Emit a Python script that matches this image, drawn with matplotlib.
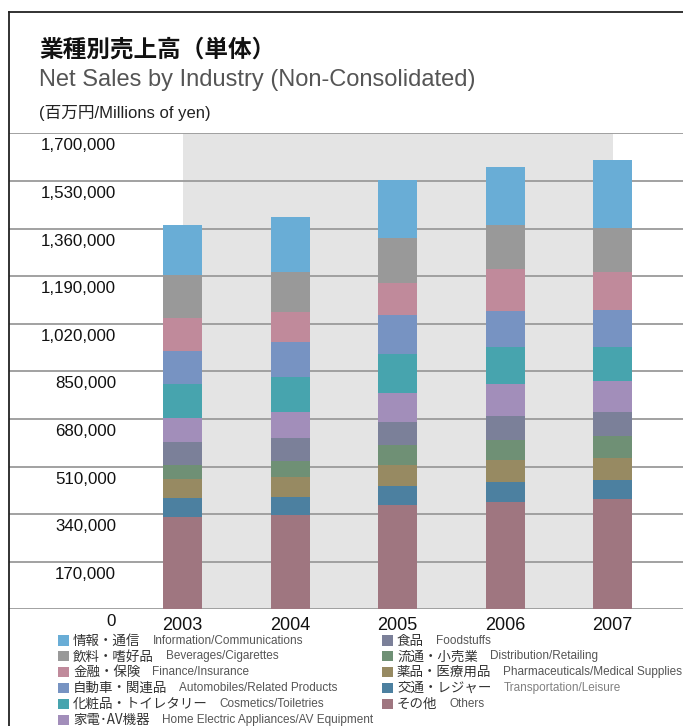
import logging
logging.getLogger('matplotlib.font_manager').setLevel(logging.ERROR)
import matplotlib
matplotlib.use('Agg')
import matplotlib.pyplot as plt
from matplotlib.patches import Rectangle
from matplotlib.lines import Line2D
import matplotlib.transforms as mtransforms

# ---------------- data ----------------
years = ['2003', '2004', '2005', '2006', '2007']

# legend order (top of stack first)
series_jp = ['情報・通信', '飲料・嗜好品', '金融・保険', '自動車・関連品',
             '化粧品・トイレタリー', '家電･AV機器', '食品', '流通・小売業',
             '薬品・医療用品', '交通・レジャー', 'その他']
series_en = ['Information/Communications', 'Beverages/Cigarettes',
             'Finance/Insurance', 'Automobiles/Related Products',
             'Cosmetics/Toiletries', 'Home Electric Appliances/AV Equipment',
             'Foodstuffs', 'Distribution/Retailing',
             'Pharmaceuticals/Medical Supplies', 'Transportation/Leisure',
             'Others']

information = [179600, 196400, 207100, 208200, 242900]
beverages = [151400, 142900, 161800, 157100, 157100]
finance = [118900, 107100, 113200, 150000, 135700]
automobiles = [117900, 125000, 139300, 128600, 132100]
cosmetics = [120400, 125000, 139300, 131100, 121400]
home_electric = [86800, 92900, 104600, 114300, 110700]
foodstuffs = [83200, 83200, 82100, 85700, 85700]
distribution = [48900, 56100, 71400, 71400, 77500]
pharmaceuticals = [66800, 71400, 73900, 78600, 79600]
transportation = [68900, 64300, 68900, 71400, 67900]
others = [329600, 336800, 371400, 383200, 393900]

y_ticks = [0, 170000, 340000, 510000, 680000, 850000, 1020000,
           1190000, 1360000, 1530000, 1700000]
y_tick_labels = ['0', '170,000', '340,000', '510,000', '680,000', '850,000',
                 '1,020,000', '1,190,000', '1,360,000', '1,530,000', '1,700,000']

# ---------------- styles ----------------
values = [information, beverages, finance, automobiles, cosmetics,
          home_electric, foodstuffs, distribution, pharmaceuticals,
          transportation, others]
colors = ['#69add6', '#999999', '#c08a9b', '#7793c2', '#47a4ae',
          '#a28eba', '#7b8099', '#6f9075', '#978a62', '#4c80a0', '#9f7680']
en_colors = ['#555555'] * 9 + ['#808080', '#555555']

W, H = 683, 726
NARROW = ['Liberation Sans', 'DejaVu Sans', 'Noto Sans CJK JP']
CJK = ['Noto Sans CJK JP', 'DejaVu Sans']

fig = plt.figure(figsize=(W / 100, H / 100), dpi=100)


def fx(x):
    return x / W


def fy(y):
    return 1 - y / H


y0_px, ytop_px = 609.3, 133.3
ax_left_px, ax_right_px = 9, 683
ax = fig.add_axes([fx(ax_left_px), fy(y0_px), (ax_right_px - ax_left_px) / W,
                   (y0_px - ytop_px) / H])
ax.set_ylim(0, 1700000)
c0, step = 182.5, 107.5
ax.set_xlim((ax_left_px - c0) / step, (ax_right_px - c0) / step)
ax.axis('off')

# gray background band between first and last bar centres
ax.axvspan(0, len(years) - 1, ymin=0, ymax=1, color='#e4e4e4', zorder=0, lw=0)

for t in y_ticks:
    ax.axhline(t, color='#9a9a9a', lw=1.3, zorder=1)

xs = list(range(len(years)))
bottom = [0] * len(years)
for vals, col in zip(values[::-1], colors[::-1]):
    ax.bar(xs, vals, width=39 / step, bottom=bottom, color=col, zorder=3, lw=0)
    bottom = [b + v for b, v in zip(bottom, vals)]

# y tick labels (drawn below each grid line)
trans_y = mtransforms.blended_transform_factory(fig.transFigure, ax.transData)
off = mtransforms.ScaledTranslation(0, -12.5 / 100, fig.dpi_scale_trans)
for t, lab in zip(y_ticks, y_tick_labels):
    ax.text(fx(116), t, lab, transform=trans_y + off, ha='right', va='center',
            fontsize=12.2, family=NARROW, color='#111111')

off_x = mtransforms.ScaledTranslation(0, -16.5 / 100, fig.dpi_scale_trans)
for x, lab in zip(xs, years):
    ax.text(x, 0, lab, transform=ax.transData + off_x, ha='center', va='center',
            fontsize=13, family=NARROW, color='#111111')

# frame lines
fig.add_artist(Line2D([fx(9), fx(683)], [fy(12), fy(12)], color='#222222', lw=1.3))
fig.add_artist(Line2D([fx(9), fx(9)], [fy(12), fy(726)], color='#222222', lw=1.3))

# titles
fig.text(fx(39), fy(50), '業種別売上高（単体）', family=CJK, fontweight='bold',
         fontsize=17, color='#111111', ha='left', va='center')
fig.text(fx(39), fy(80), 'Net Sales by Industry (Non-Consolidated)', family=NARROW,
         fontsize=17, color='#555555', ha='left', va='center')
fig.text(fx(39), fy(113), '(百万円/Millions of yen)', family=NARROW,
         fontsize=12, color='#222222', ha='left', va='center')

# legend
fig.canvas.draw()
renderer = fig.canvas.get_renderer()
for i, (jp, en, col, ecol) in enumerate(zip(series_jp, series_en, colors, en_colors)):
    if i < 6:
        sx, row = 58, i
    else:
        sx, row = 382, i - 6
    yc = 640.5 + 15.9 * row
    fig.add_artist(Rectangle((fx(sx), fy(yc + 5)), 10.5 / W, 10.5 / H,
                             transform=fig.transFigure, color=col, lw=0))
    tj = fig.text(fx(sx + 15), fy(yc), jp, family=CJK, fontsize=9.7,
                  color='#333333', ha='left', va='center')
    bb = tj.get_window_extent(renderer)
    fig.text(fx(bb.x1 + 12), fy(yc), en, family=NARROW, fontsize=8.5,
             color=ecol, ha='left', va='center')

fig.savefig('out.png', dpi=100)
